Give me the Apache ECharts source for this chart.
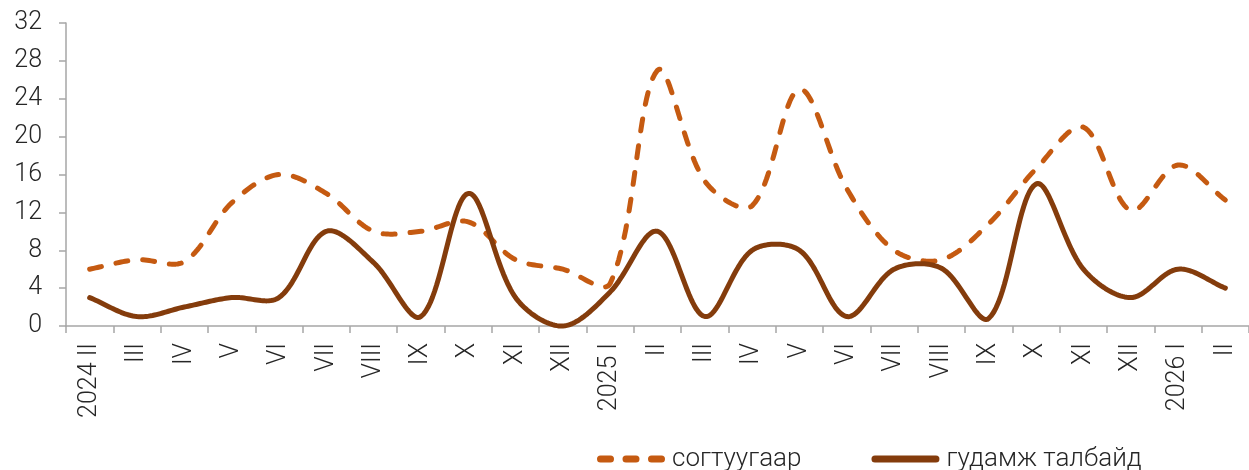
<!DOCTYPE html>
<html>
<head>
<meta charset="utf-8">
<script src="https://cdn.jsdelivr.net/npm/echarts@6/dist/echarts.min.js"></script>
<style>
html,body{margin:0;padding:0;background:#fff;}
#chart{width:1249px;height:470px;}
</style>
</head>
<body>
<div id="chart"></div>
<script>
const categories = ["2024 II","III","IV","V","VI","VII","VIII","IX","X","XI","XII","2025 I","II","III","IV","V","VI","VII","VIII","IX","X","XI","XII","2026 I","II"];
const drunkValues = [6,7,6.8,13,16,14,10,10,11,7,6,4.5,27,15.3,12.7,25,14.5,8,7,10.8,16.6,21,12.2,17,13.3];
const streetValues = [3,1,2,3,3,10,6.7,1,14,3,0,3.6,10,1,8,8,1,6,6.1,0.8,15,6,3,6,4];
const seriesNames = ["согтуугаар","гудамж талбайд"];
const yTicks = {min:0,max:32,interval:4};

const font = 'Roboto';
const DASH_ICON = 'path://M3.5,0H13.5A3.5,3.5,0,0,1,13.5,7H3.5A3.5,3.5,0,0,1,3.5,0Z M29,0H39A3.5,3.5,0,0,1,39,7H29A3.5,3.5,0,0,1,29,0Z M54.5,0H64.5A3.5,3.5,0,0,1,64.5,7H54.5A3.5,3.5,0,0,1,54.5,0Z';
const SOLID_ICON = 'path://M3.5,0H64.5A3.5,3.5,0,0,1,64.5,7H3.5A3.5,3.5,0,0,1,3.5,0Z';

// smooth curve through the pixel points produced by the axes
function smoothPoints(P, s){
  const n = P.length, out = [];
  const cpIn = [], cpOut = [];
  for(let i=0;i<n;i++){
    const prev = P[Math.max(0,i-1)], next = P[Math.min(n-1,i+1)], p = P[i];
    const vx = next[0]-prev[0], vy = next[1]-prev[1];
    const lp = Math.hypot(p[0]-prev[0], p[1]-prev[1]);
    const ln = Math.hypot(next[0]-p[0], next[1]-p[1]);
    const tot = (lp+ln)||1;
    cpIn.push([p[0]-vx*s*lp/tot, p[1]-vy*s*lp/tot]);
    cpOut.push([p[0]+vx*s*ln/tot, p[1]+vy*s*ln/tot]);
  }
  out.push(P[0].slice());
  const N = 24;
  for(let i=0;i<n-1;i++){
    const a=P[i], b=cpOut[i], c=cpIn[i+1], d=P[i+1];
    for(let k=1;k<=N;k++){
      const t=k/N, u=1-t;
      out.push([
        u*u*u*a[0]+3*u*u*t*b[0]+3*u*t*t*c[0]+t*t*t*d[0],
        u*u*u*a[1]+3*u*u*t*b[1]+3*u*t*t*c[1]+t*t*t*d[1]
      ]);
    }
  }
  return out;
}

function makeRender(values, style){
  return function(params, api){
    if(params.dataIndex !== 0) return null;
    const pts = values.map((v,i)=>api.coord([i, v]));
    return {type:'polyline', shape:{points:smoothPoints(pts, 1/3)}, style:style, silent:true};
  };
}

const chart = echarts.init(document.getElementById('chart'));
chart.setOption({
  animation:false,
  backgroundColor:'#ffffff',
  grid:{left:66,right:-3,top:23,bottom:144,containLabel:false},
  legend:{
    left:592,top:441,itemWidth:68,itemHeight:7,itemGap:70,
    textStyle:{fontFamily:font,fontSize:26,color:'#262626',fontWeight:300,padding:[0,0,0,2]},
    data:[{name:seriesNames[0],icon:DASH_ICON},{name:seriesNames[1],icon:SOLID_ICON}]
  },
  xAxis:{
    type:'category',data:categories,boundaryGap:true,
    axisLine:{lineStyle:{color:'#a6a6a6',width:1.5}},
    axisTick:{show:true,length:7,lineStyle:{color:'#a6a6a6',width:1.5}},
    axisLabel:{rotate:90,interval:0,margin:17,fontFamily:font,fontSize:25,fontWeight:300,color:'#262626'},
    splitLine:{show:false}
  },
  yAxis:{
    type:'value',min:yTicks.min,max:yTicks.max,interval:yTicks.interval,
    axisLine:{show:true,lineStyle:{color:'#a6a6a6',width:1.5}},
    axisTick:{show:true,length:7,lineStyle:{color:'#a6a6a6',width:1.5}},
    axisLabel:{margin:24,fontFamily:font,fontSize:25,fontWeight:300,color:'#262626'},
    splitLine:{show:false}
  },
  series:[
    {name:seriesNames[0],type:'custom',data:drunkValues.map((v,i)=>[i,v]),encode:{x:0,y:1},
     itemStyle:{color:'#c55a11'},
     renderItem:makeRender(drunkValues,{fill:null,stroke:'#c55a11',lineWidth:5,lineDash:[12,15],lineCap:'round',lineJoin:'round'})},
    {name:seriesNames[1],type:'custom',data:streetValues.map((v,i)=>[i,v]),encode:{x:0,y:1},
     itemStyle:{color:'#843c0c'},
     renderItem:makeRender(streetValues,{fill:null,stroke:'#843c0c',lineWidth:5,lineCap:'round',lineJoin:'round'})}
  ]
});
</script>
</body>
</html>
